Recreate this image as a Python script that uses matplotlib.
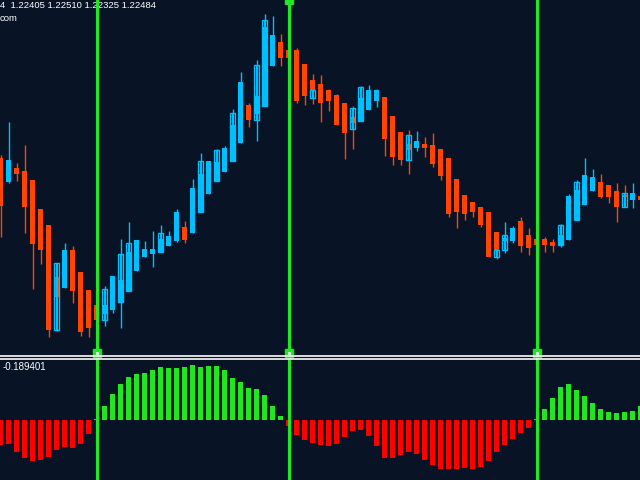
import numpy as np
import matplotlib
matplotlib.use("Agg")
import matplotlib.pyplot as plt
from matplotlib.patches import Rectangle

# OHLC of the candles (one per bar, left to right)
opens = [1.2342, 1.2318, 1.2332, 1.2329, 1.2320, 1.2291, 1.2275, 1.2223, 1.2212, 1.2250,
         1.2228, 1.2210, 1.2195, 1.2186, 1.2190, 1.2198, 1.2209, 1.2229, 1.2243, 1.2246,
         1.2248, 1.2254, 1.2259, 1.2273, 1.2267, 1.2288, 1.2306, 1.2319, 1.2328, 1.2339,
         1.2357, 1.2395, 1.2386, 1.2394, 1.2434, 1.2458, 1.2450, 1.2450, 1.2436, 1.2420,
         1.2416, 1.2410, 1.2405, 1.2397, 1.2383, 1.2379, 1.2390, 1.2399, 1.2403, 1.2384,
         1.2368, 1.2356, 1.2352, 1.2356, 1.2355, 1.2351, 1.2342, 1.2321, 1.2305, 1.2298,
         1.2293, 1.2288, 1.2268, 1.2259, 1.2259, 1.2279, 1.2265, 1.2261, 1.2261, 1.2258,
         1.2255, 1.2260, 1.2280, 1.2295, 1.2309, 1.2318, 1.2315, 1.2309, 1.2305, 1.2300,
         1.2304]
highs = [1.2345, 1.2378, 1.2337, 1.2355, 1.2320, 1.2291, 1.2275, 1.2237, 1.2257, 1.2254,
         1.2228, 1.2210, 1.2197, 1.2214, 1.2224, 1.2261, 1.2278, 1.2260, 1.2259, 1.2269,
         1.2275, 1.2269, 1.2291, 1.2279, 1.2321, 1.2347, 1.2339, 1.2351, 1.2354, 1.2391,
         1.2428, 1.2397, 1.2440, 1.2486, 1.2484, 1.2466, 1.2452, 1.2452, 1.2436, 1.2426,
         1.2425, 1.2411, 1.2406, 1.2397, 1.2394, 1.2414, 1.2415, 1.2411, 1.2403, 1.2384,
         1.2368, 1.2370, 1.2369, 1.2363, 1.2367, 1.2351, 1.2342, 1.2321, 1.2305, 1.2298,
         1.2293, 1.2288, 1.2268, 1.2278, 1.2274, 1.2283, 1.2272, 1.2261, 1.2263, 1.2261,
         1.2276, 1.2306, 1.2320, 1.2342, 1.2331, 1.2326, 1.2315, 1.2317, 1.2315, 1.2317,
         1.2304]
lows = [1.2263, 1.2317, 1.2319, 1.2267, 1.2211, 1.2236, 1.2163, 1.2169, 1.2212, 1.2197,
        1.2164, 1.2163, 1.2178, 1.2174, 1.2187, 1.2172, 1.2209, 1.2229, 1.2243, 1.2233,
        1.2248, 1.2254, 1.2258, 1.2257, 1.2267, 1.2288, 1.2306, 1.2319, 1.2328, 1.2339,
        1.2357, 1.2373, 1.2359, 1.2394, 1.2434, 1.2434, 1.2442, 1.2397, 1.2395, 1.2396,
        1.2378, 1.2389, 1.2375, 1.2341, 1.2351, 1.2379, 1.2390, 1.2393, 1.2344, 1.2335,
        1.2335, 1.2326, 1.2349, 1.2343, 1.2333, 1.2320, 1.2283, 1.2272, 1.2280, 1.2283,
        1.2273, 1.2243, 1.2241, 1.2247, 1.2257, 1.2248, 1.2245, 1.2252, 1.2248, 1.2248,
        1.2253, 1.2260, 1.2280, 1.2295, 1.2309, 1.2302, 1.2297, 1.2278, 1.2293, 1.2292,
        1.2300]
closes = [1.2294, 1.2340, 1.2326, 1.2293, 1.2256, 1.2250, 1.2170, 1.2203, 1.2250, 1.2209,
          1.2168, 1.2172, 1.2180, 1.2195, 1.2224, 1.2220, 1.2248, 1.2260, 1.2251, 1.2251,
          1.2261, 1.2264, 1.2288, 1.2260, 1.2312, 1.2326, 1.2339, 1.2338, 1.2352, 1.2375,
          1.2418, 1.2380, 1.2404, 1.2473, 1.2465, 1.2442, 1.2442, 1.2399, 1.2404, 1.2410,
          1.2397, 1.2399, 1.2375, 1.2367, 1.2377, 1.2402, 1.2410, 1.2410, 1.2361, 1.2343,
          1.2340, 1.2350, 1.2359, 1.2352, 1.2336, 1.2324, 1.2286, 1.2288, 1.2286, 1.2288,
          1.2275, 1.2243, 1.2250, 1.2262, 1.2272, 1.2254, 1.2252, 1.2255, 1.2255, 1.2254,
          1.2265, 1.2304, 1.2310, 1.2325, 1.2323, 1.2303, 1.2303, 1.2293, 1.2303, 1.2307,
          1.2300]

# hollow (outline) boxes of the overlaid series: bar, top, bottom
outline_bar = [7, 13, 15, 16, 20, 25, 27, 29, 32, 33, 39, 44, 45, 51, 62, 63, 70, 72, 78]
outline_top = [1.2237, 1.2211, 1.2246, 1.2257, 1.2267, 1.2339, 1.2350, 1.2387, 1.2435, 1.2480,
               1.2410, 1.2392, 1.2413, 1.2365, 1.2250, 1.2265, 1.2275, 1.2318, 1.2307]
outline_bot = [1.2170, 1.2180, 1.2198, 1.2209, 1.2248, 1.2288, 1.2319, 1.2339, 1.2380, 1.2394,
               1.2402, 1.2371, 1.2379, 1.2340, 1.2243, 1.2250, 1.2255, 1.2280, 1.2293]

# oscillator histogram
hist = [-0.25, -0.24, -0.32, -0.38, -0.41, -0.40, -0.37, -0.30, -0.27, -0.28,
        -0.24, -0.14, 0.01, 0.14, 0.26, 0.36, 0.43, 0.46, 0.47, 0.50,
        0.53, 0.52, 0.52, 0.53, 0.55, 0.53, 0.54, 0.54, 0.50, 0.42,
        0.38, 0.32, 0.31, 0.25, 0.14, 0.04, -0.06, -0.15, -0.20, -0.23,
        -0.25, -0.26, -0.24, -0.17, -0.11, -0.10, -0.16, -0.26, -0.38, -0.38,
        -0.35, -0.32, -0.34, -0.40, -0.45, -0.49, -0.49, -0.49, -0.48, -0.49,
        -0.47, -0.41, -0.32, -0.25, -0.19, -0.13, -0.08, 0.01, 0.11, 0.22,
        0.33, 0.36, 0.30, 0.24, 0.17, 0.11, 0.08, 0.07, 0.08, 0.09,
        0.14]

signal_bars = [12, 36, 67]
header = "4  1.22405 1.22510 1.22325 1.22484"
sub_header = "com"
osc_label = "-0.189401"

BG = "#081325"
BULL = "#00BFFF"
BEAR = "#FF4500"
LIME = "#22E622"

fig = plt.figure(figsize=(6.4, 4.8), dpi=100, facecolor=BG)
ax = fig.add_axes([0, 1 - 355 / 480, 1, 355 / 480], facecolor=BG)
ax2 = fig.add_axes([0, 0, 1, 121 / 480], facecolor=BG)

x = np.arange(len(opens))
xlim = (-0.0625, 79.9375)
w = 0.625

for i in x:
    o, h, l, c = opens[i], highs[i], lows[i], closes[i]
    col = BULL if c >= o else BEAR
    ax.vlines(i, l, h, color=col, lw=1.0, zorder=2)
    ax.add_patch(Rectangle((i - w / 2, min(o, c)), w, max(abs(c - o), 0.00008),
                           facecolor=col, edgecolor="none", zorder=3))

for b, t, bt in zip(outline_bar, outline_top, outline_bot):
    ax.add_patch(Rectangle((b - w / 2, bt), w, t - bt, facecolor="none",
                           edgecolor=BULL, lw=1.0, zorder=4))
    ax.vlines([b - 0.1, b + 0.1], bt, t, color=BULL, lw=0.7, zorder=4)

ax.set_xlim(*xlim)
ax.set_ylim(1.2145, 1.2500)

cols = [LIME if v > 0 else "#FF0000" for v in hist]
ax2.bar(x, hist, width=0.68, color=cols, zorder=2)
ax2.set_xlim(*xlim)
ax2.set_ylim(-0.60, 0.61)

for a in (ax, ax2):
    for s in a.spines.values():
        s.set_visible(False)
    a.set_xticks([])
    a.set_yticks([])
    for b in signal_bars:
        a.axvline(b, color=LIME, lw=2.3, zorder=6)

# line through the gap between panels
gap = fig.add_axes([0, 121 / 480, 1, 4 / 480], facecolor=BG)
gap.set_xlim(*xlim)
gap.axis("off")
for b in signal_bars:
    gap.axvline(b, color=LIME, lw=2.3)
fig.add_artist(plt.Line2D([0, 1], [1 - 356 / 480] * 2, color="white", lw=1.2, zorder=10))
fig.add_artist(plt.Line2D([0, 1], [1 - 358.5 / 480] * 2, color="white", lw=1.2, zorder=10))

# little markers at line heads
ax.plot(signal_bars[1], 1.0, "s", ms=5.5, color=LIME, transform=ax.get_xaxis_transform(),
        clip_on=False, zorder=7)
for b in signal_bars:
    ax.plot(b, 0.005, "s", ms=5.2, color=LIME, transform=ax.get_xaxis_transform(),
            clip_on=False, zorder=8)
    ax.plot(b, 0.005, "s", ms=1.1, color="white", transform=ax.get_xaxis_transform(),
            clip_on=False, zorder=9)

ax.text(0.0, 0.997, header, transform=ax.transAxes, color="white", fontsize=6.8,
        family="Liberation Sans", va="top", ha="left", zorder=5)
ax.text(0.0, 0.96, sub_header, transform=ax.transAxes, color="white", fontsize=6.8,
        family="Liberation Sans", va="top", ha="left", zorder=5)
ax2.text(0.004, 0.975, osc_label, transform=ax2.transAxes, color="white", fontsize=7,
         family="Liberation Sans", va="top", ha="left", zorder=5)

plt.savefig("out.png", dpi=100, facecolor=BG)
